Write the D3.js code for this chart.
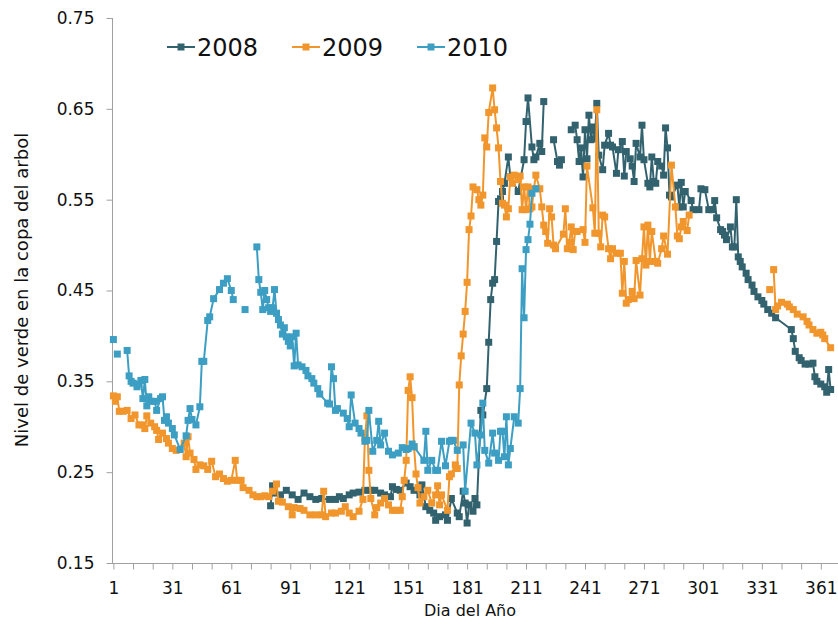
<!DOCTYPE html>
<html><head><meta charset="utf-8">
<script src="https://cdn.jsdelivr.net/npm/d3@7/dist/d3.min.js"></script>
<style>body{margin:0;background:#fff}text{font-family:"DejaVu Sans",sans-serif}</style>
</head><body><svg id="c" width="838" height="625"></svg>
<script>
const seriesNames = ["2008","2009","2010"];
const seriesColors = ["#33626f","#f1962c","#3c9ec2"];
const yTicks = [0.15,0.25,0.35,0.45,0.55,0.65,0.75];
const xTickMarks = d3.range(1, 372, 10);
const xTickLabels = [1,31,61,91,121,151,181,211,241,271,301,331,361];
const yTitle = "Nivel de verde en la copa del arbol";
const xTitle = "Dia del Año";

const data2008 = [[81,.213],[82,.235],[83,.227],[86,.225],[89,.230],[92,.225],[95,.220],[98,.227],[101,.223],[104,.220],[107,.221],[111,.220],[114,.220],[116,.223],[118,.221],[121,.225],[123,.227],[126,.228],[129,.230],[132,.230],[134,.230],[137,.227],[139,.225],[142,.223],[143,.234],[145,.231],[147,.230],[150,.238],[152,.234],[154,.230],[157,.225],[158,.236],[160,.212],[162,.208],[164,.205],[165,.197],[167,.201],[170,.203],[171,.197],[173,.221],[176,.205],[177,.201],[179,.229],[180,.216],[181,.194],[182,.214],[184,.207],[185,.221],[186,.214],[188,.318],[189,.313],[191,.342],[192,.393],[193,.440],[194,.458],[195,.462],[196,.504],[197,.548],[198,.551],[199,.559],[200,.568],[202,.597],[203,.575],[207,.559],[210,.594],[211,.636],[212,.662],[214,.608],[215,.594],[216,.597],[218,.612],[219,.603],[220,.658],[222,null],[225,.616],[227,.592],[228,.588],[229,.594],[231,null],[234,.627],[236,.632],[237,.616],[238,.592],[239,.607],[240,.575],[241,.627],[242,.595],[243,.643],[244,.616],[245,.630],[246,.617],[247,.656],[248,.599],[250,.583],[251,.610],[253,.623],[254,.610],[255,.608],[257,.579],[258,.605],[260,.614],[261,.576],[262,.603],[264,.595],[265,.587],[266,.570],[267,.612],[269,.597],[270,.632],[271,.594],[273,.568],[274,.564],[275,.597],[276,.570],[277,.568],[278,.592],[280,.587],[281,.577],[282,.629],[283,.607],[284,.555],[285,.553],[288,.566],[289,.542],[290,.569],[291,.542],[292,.559],[295,.549],[296,.539],[299,.539],[300,.562],[302,.561],[304,.539],[306,.539],[307,.549],[308,.530],[310,.517],[311,.515],[312,.511],[313,.506],[315,.520],[316,.498],[317,.498],[318,.550],[319,.487],[320,.482],[321,.476],[323,.469],[324,.462],[326,.456],[327,.449],[329,.443],[331,.439],[332,.435],[334,.429],[336,.425],[338,.420],[346,.407],[347,.397],[348,.383],[350,.376],[351,.373],[353,.369],[355,.369],[357,.370],[358,.355],[359,.350],[361,.347],[363,.344],[364,.338],[365,.363],[366,.341]];

const data2009 = [[1,.334],[2,.328],[3,.333],[4,.317],[6,.317],[8,.318],[10,.309],[12,.313],[14,.302],[16,.302],[17,.298],[18,.312],[20,.304],[22,.300],[23,.296],[24,.286],[26,.293],[28,.287],[29,.282],[31,.276],[33,.274],[37,.282],[38,.267],[39,.289],[40,.271],[42,.264],[43,.253],[45,.258],[47,.257],[49,.253],[51,.262],[53,.245],[55,.248],[57,.243],[59,.240],[61,.241],[63,.263],[64,.241],[66,.241],[67,.233],[70,.230],[72,.225],[74,.223],[76,.223],[78,.224],[80,.223],[82,.229],[84,.237],[85,.218],[87,.217],[90,.212],[92,.203],[93,.211],[96,.210],[98,.208],[101,.203],[104,.203],[107,.203],[108,.229],[109,.201],[112,.205],[114,.205],[117,.207],[119,.212],[121,.205],[123,.201],[126,.207],[128,.220],[129,.288],[130,.312],[131,.252],[132,.221],[134,.203],[135,.211],[137,.216],[139,.221],[141,.214],[143,.208],[145,.208],[147,.208],[148,.223],[149,.241],[150,.263],[151,.340],[152,.355],[153,.332],[154,.278],[155,.248],[156,.233],[157,.216],[159,.223],[161,.230],[163,.216],[165,.225],[166,.235],[167,.214],[168,.225],[171,.208],[172,.245],[173,.248],[175,.258],[176,.254],[177,.346],[178,.378],[179,.402],[180,.427],[181,.459],[182,.517],[183,.532],[184,.564],[186,.561],[187,.550],[188,.544],[189,.555],[190,.618],[191,.608],[192,.646],[194,.673],[195,.649],[196,.629],[197,.607],[198,.570],[199,.546],[200,.544],[201,.531],[202,.540],[203,.575],[204,.568],[205,.577],[207,.572],[208,.576],[209,.539],[210,.564],[211,.539],[212,.564],[213,.540],[214,.542],[215,.562],[216,.577],[218,.562],[219,.542],[220,.522],[221,.515],[222,.502],[223,.540],[224,.531],[225,.500],[226,.496],[230,.512],[231,.540],[232,.496],[233,.503],[234,.520],[235,.495],[236,.515],[237,.515],[240,.517],[241,.503],[242,.587],[245,.541],[246,.513],[247,.649],[248,.513],[249,.498],[250,.533],[251,.531],[253,.496],[254,.485],[255,.496],[257,.491],[259,.491],[260,.447],[261,.482],[262,.436],[263,.440],[265,.449],[266,.441],[267,.483],[269,.445],[270,.485],[271,.520],[272,.478],[273,.522],[274,.482],[275,.515],[277,.482],[278,.480],[280,.496],[281,.510],[283,.490],[285,.588],[287,.542],[288,.510],[289,.507],[290,.520],[291,.526],[293,.516],[294,.533],[300,null],[335,.451],[336,null],[337,.473],[338,.429],[339,.433],[341,.437],[344,.435],[345,.432],[347,.429],[349,.424],[352,.421],[354,.416],[355,.412],[357,.407],[359,.403],[361,.404],[362,.401],[363,.397],[366,.387]];

const data2010 = [[1,.396],[2,null],[3,.380],[5,null],[8,.384],[9,.356],[10,.350],[11,.348],[13,.344],[14,.347],[15,.351],[16,.331],[17,.352],[18,.323],[19,.333],[20,.328],[22,.328],[23,.318],[25,.331],[26,.333],[27,.307],[28,.311],[29,.304],[31,.298],[32,.291],[35,.275],[38,.290],[39,.307],[40,.320],[41,.308],[43,.302],[45,.322],[46,.372],[47,.372],[49,.417],[50,.421],[52,.441],[55,.451],[57,.458],[59,.463],[61,.450],[62,.440],[65,null],[68,.429],[71,null],[74,.498],[75,.462],[76,.448],[77,.429],[78,.450],[79,.440],[80,.431],[81,.427],[82,.431],[83,.451],[84,.425],[85,.418],[86,.412],[87,.402],[88,.409],[89,.399],[90,.394],[91,.389],[92,.399],[93,.367],[94,.403],[95,.368],[97,.366],[99,.362],[100,.356],[102,.353],[103,.348],[105,.342],[106,.336],[110,.326],[111,.325],[112,.366],[113,.353],[114,.318],[115,.320],[118,.315],[120,.309],[121,.300],[122,.335],[124,.304],[126,.298],[127,.293],[129,.284],[130,.285],[131,.318],[133,.273],[135,.285],[136,.306],[137,.280],[139,.293],[141,.273],[143,.269],[146,.271],[148,.277],[150,.275],[151,.276],[153,.281],[154,.278],[159,.263],[160,.295],[161,.252],[163,.263],[165,.252],[166,.252],[168,.284],[170,.257],[172,.284],[173,.285],[174,.285],[176,.274],[179,.280],[180,.229],[183,.304],[185,.293],[186,.258],[188,.291],[189,.326],[190,.274],[192,.260],[194,.293],[195,.271],[197,.263],[198,.295],[199,.295],[200,.267],[201,.311],[202,.258],[203,.276],[205,.311],[207,.304],[208,.342],[209,.474],[210,.420],[211,.495],[212,.506],[213,.523],[214,.557],[216,.562]];

const allData = [data2008, data2009, data2010];

const svg = d3.select("#c");
const x = d3.scaleLinear().domain([1, 361]).range([113.4, 820.8]);
const y = d3.scaleLinear().domain([0.15, 0.75]).range([563, 18]);
const axisColor = "#a0a0a0";

// y axis
const gy = svg.append("g").attr("transform","translate(112.5,0)")
  .call(d3.axisLeft(y).tickValues(yTicks).tickFormat(d3.format(".2f")).tickSize(6).tickSizeOuter(0).tickPadding(12));
gy.select(".domain").remove();
gy.selectAll(".tick line").attr("stroke",axisColor);
gy.selectAll(".tick text").attr("font-size",17).attr("fill","#111").attr("font-family","DejaVu Sans");
svg.append("line").attr("x1",112.5).attr("x2",112.5).attr("y1",y(0.75)).attr("y2",y(0.15)).attr("stroke",axisColor);

// x axis
const gx = svg.append("g").attr("transform","translate(0,563.5)")
  .call(d3.axisBottom(x).tickValues(xTickMarks).tickFormat(d => xTickLabels.includes(d) ? d : "").tickSize(6).tickSizeOuter(0).tickPadding(12));
gx.select(".domain").remove();
gx.selectAll(".tick line").attr("stroke",axisColor);
gx.selectAll(".tick text").attr("font-size",17).attr("fill","#111").attr("font-family","DejaVu Sans");
svg.append("line").attr("x1",112).attr("x2",838).attr("y1",563.5).attr("y2",563.5).attr("stroke",axisColor);

// titles
svg.append("text").attr("transform","translate(28,290) rotate(-90)").attr("text-anchor","middle")
  .attr("font-size",18).attr("fill","#111").text(yTitle);
svg.append("text").attr("x",470).attr("y",616).attr("text-anchor","middle")
  .attr("font-size",16).attr("fill","#111").text(xTitle);

// series
const line = d3.line().defined(d => d[1] !== null).x(d => x(d[0])).y(d => y(d[1]));
const ms = 7;
allData.forEach((data, i) => {
  const g = svg.append("g");
  g.append("path").datum(data).attr("d", line).attr("fill","none")
    .attr("stroke", seriesColors[i]).attr("stroke-width", 2).attr("stroke-linejoin","round");
  g.selectAll("rect").data(data.filter(d => d[1] !== null)).join("rect")
    .attr("x", d => x(d[0]) - ms/2).attr("y", d => y(d[1]) - ms/2)
    .attr("width", ms).attr("height", ms).attr("fill", seriesColors[i]);
});

// legend
const legX = [167, 292, 417];
seriesNames.forEach((name, i) => {
  const g = svg.append("g").attr("transform", `translate(${legX[i]},47)`);
  g.append("line").attr("x1",0).attr("x2",28).attr("y1",0).attr("y2",0).attr("stroke",seriesColors[i]).attr("stroke-width",2);
  g.append("rect").attr("x",14-3.5).attr("y",-3.5).attr("width",7).attr("height",7).attr("fill",seriesColors[i]);
  g.append("text").attr("x",30).attr("y",9).attr("font-size",24).attr("fill","#111").text(name);
});
</script></body></html>
